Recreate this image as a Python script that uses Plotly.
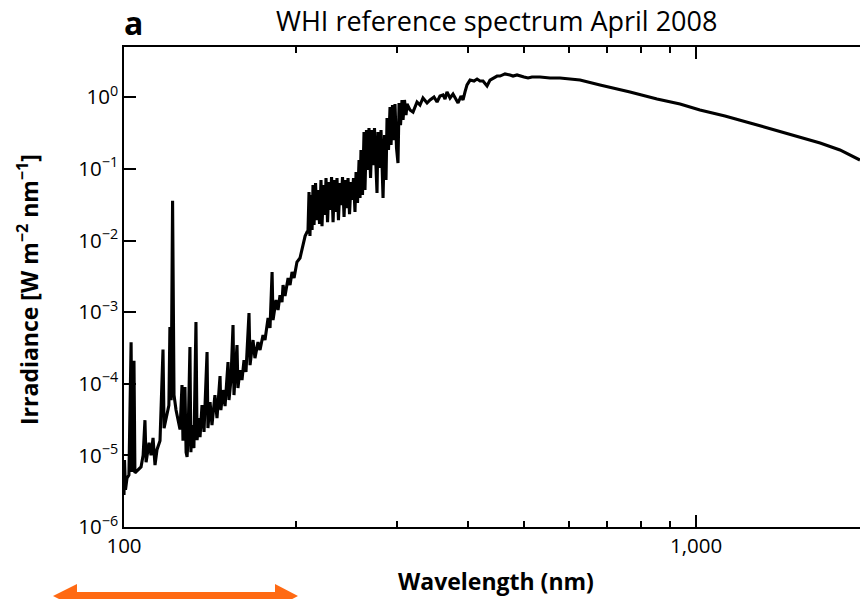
import plotly.graph_objects as go

# ---- data (wavelength in nm, irradiance in W m^-2 nm^-1) ----
wavelength_nm = [
    100.0, 100.2, 100.6, 101.2, 102.0, 102.9, 103.3, 104.1, 104.5, 105.8,
    107.1, 108.0, 108.8, 109.3, 110.6, 111.5, 112.4, 113.3, 114.2, 115.6,
    117.0, 117.5, 118.9, 119.8, 120.3, 120.9, 121.6, 122.3, 123.3, 124.3,
    125.3, 126.3, 126.8, 127.8, 128.4, 128.9,
    129.4, 130.4, 130.9, 131.5, 132.5, 133.6, 134.2, 135.2, 135.8, 136.9,
    138.0, 139.7, 140.2, 141.4, 142.5, 144.2, 145.4, 147.2, 147.7, 148.9,
    150.2, 152.0, 152.6, 153.8, 155.1, 155.7, 157.6, 158.2, 159.5, 160.8,
    162.1, 163.4, 165.4, 166.1, 168.1, 169.4, 171.5, 172.9, 175.0, 176.4,
    178.6, 180.0, 181.5, 182.2, 184.4, 185.9, 187.4, 188.9, 189.7, 191.2,
    193.6, 195.1, 196.7, 198.3, 200.6, 203.1, 205.6, 207.3, 208.9,
    209.7, 210.6, 211.4, 212.3, 213.2, 214.0, 214.9, 216.2, 217.5, 218.4,
    219.7, 221.0, 221.9, 223.3, 224.6, 225.5, 226.9, 228.3, 229.2, 230.6,
    232.0, 233.4, 234.8, 235.7, 237.1, 238.6, 239.5, 241.0, 242.5, 243.9,
    245.4, 246.4, 247.9, 249.4, 250.4, 251.9, 253.4, 254.5, 256.0, 257.6,
    258.6, 259.6, 261.2, 262.8, 263.8, 265.4, 267.1, 268.1, 269.8, 271.4,
    272.5, 274.1, 275.8, 276.9, 278.0, 279.7, 281.4, 282.5, 283.7, 285.4,
    287.1, 288.3, 290.0, 291.8, 293.0, 294.7, 296.5, 297.7, 299.5, 301.3,
    302.6, 304.4, 306.2, 307.5, 309.3, 311.2, 312.5,
    316.2, 320.1, 325.3, 329.2, 333.2, 338.7, 342.8, 348.3, 352.6, 356.8,
    361.2, 364.1, 367.0, 371.5, 376.0, 380.6, 383.7, 388.3, 391.5, 394.6,
    397.8, 402.7, 409.2, 414.2, 419.2, 424.3, 427.7, 431.2, 436.4, 441.7,
    448.9, 454.3, 463.6, 473.0, 478.8, 486.5, 492.4, 500.4, 508.6, 516.8,
    533.7, 555.7, 578.3, 626.9, 679.5, 766.7, 854.8, 937.7, 1016.0, 1123.7,
    1243.0, 1374.5, 1520.0, 1648.0, 1785.0, 1935.0,
]

irradiance = [
    2.8e-6, 8.6e-6, 3.3e-6, 4.8e-6, 5.3e-6, 3.8e-4, 5.85e-6, 2.1e-4, 5.7e-6, 6.2e-6,
    6.9e-6, 1.0e-5, 3.1e-5, 8.0e-6, 1.5e-5, 1.0e-5, 1.75e-5, 7.3e-6, 1.2e-5, 1.6e-5,
    3.0e-4, 2.4e-5, 3.7e-5, 5.0e-5, 6.2e-4, 5.9e-5, 3.6e-2, 7.0e-5, 4.3e-5, 3.1e-5,
    2.3e-5, 9.6e-5, 1.6e-5, 9.0e-5, 1.1e-5, 9.5e-6,
    1.64e-5, 3.26e-4, 1.11e-5, 2.65e-5, 1.26e-5, 7.27e-4, 1.64e-5, 3.32e-5, 1.80e-5, 5.04e-5,
    2.12e-5, 2.77e-4, 2.41e-5, 5.55e-5, 2.65e-5, 6.95e-5, 3.32e-5, 1.28e-4, 4.29e-5, 8.17e-5,
    4.88e-5, 2.01e-4, 5.92e-5, 1.13e-4, 6.60e-4, 6.95e-5, 3.47e-4, 8.71e-5, 1.55e-4, 1.13e-4,
    2.14e-4, 1.46e-4, 9.71e-4, 1.82e-4, 4.08e-4, 2.28e-4, 3.82e-4, 2.96e-4, 4.79e-4, 4.08e-4,
    8.27e-4, 6.0e-4, 3.63e-3, 7.76e-4, 1.48e-3, 1.07e-3, 1.73e-3, 1.38e-3, 2.39e-3, 1.68e-3,
    2.99e-3, 2.39e-3, 3.63e-3, 2.99e-3, 5.01e-3, 5.70e-3, 9.23e-3, 1.156e-2, 1.31e-2,
    1.31e-2, 4.76e-2, 1.156e-2, 4.32e-2, 1.40e-2, 5.96e-2, 1.646e-2, 6.35e-2, 1.93e-2, 5.07e-2,
    1.70e-2, 7.0e-2, 1.59e-2, 5.96e-2, 2.27e-2, 7.46e-2, 1.81e-2, 6.56e-2, 2.67e-2, 7.71e-2,
    1.81e-2, 7.0e-2, 2.50e-2, 7.46e-2, 1.93e-2, 6.35e-2, 3.13e-2, 7.71e-2, 2.13e-2, 7.0e-2,
    2.84e-2, 7.46e-2, 2.34e-2, 6.56e-2, 3.68e-2, 7.46e-2, 2.50e-2, 9.05e-2, 3.34e-2, 0.133,
    3.92e-2, 0.184, 4.32e-2, 0.328, 5.07e-2, 0.349, 9.65e-2, 0.373, 7.46e-2, 0.349,
    0.113, 0.373, 9.05e-2, 4.61e-2, 0.328, 0.103, 0.349, 8.22e-2, 3.92e-2, 0.298,
    7.0e-2, 0.514, 0.184, 0.732, 0.216, 0.781, 0.253, 0.806, 0.196, 0.121,
    0.833, 0.410, 0.917, 0.482, 0.917, 0.566, 0.806,
    0.665, 0.623, 0.86, 0.781, 0.978, 0.833, 0.917, 1.01, 0.86, 1.043,
    1.08, 0.947, 1.19, 0.978, 1.112, 0.917, 0.833, 1.043, 0.917, 1.19,
    1.49, 1.74, 1.69, 1.80, 1.69, 1.69, 1.584, 1.438, 1.74, 1.86,
    1.98, 1.98, 2.12, 2.05, 1.98, 2.05, 1.98, 1.92, 1.86, 1.92,
    1.92, 1.86, 1.86, 1.74, 1.49, 1.19, 0.947, 0.806, 0.665, 0.548,
    0.438, 0.349, 0.279, 0.230, 0.184, 0.133,
]

y_tick_vals = [1e-6, 1e-5, 1e-4, 1e-3, 1e-2, 1e-1, 1e0]
y_tick_text = ["10<sup>−6</sup>", "10<sup>−5</sup>", "10<sup>−4</sup>", "10<sup>−3</sup>",
               "10<sup>−2</sup>", "10<sup>−1</sup>", "10<sup>0</sup>"]
x_major_vals = [100, 1000]
x_major_text = ["100", "1,000"]
x_minor_vals = [200, 300, 400, 500, 600, 700, 800, 900, 2000]

panel_label = "a"
title_text = "WHI reference spectrum April 2008"
x_title = "Wavelength (nm)"
y_title = "Irradiance [W m<sup>−2</sup> nm<sup>−1</sup>]"

FONT = "Open Sans"
X_RANGE = [2, 3.2867]
Y_RANGE = [-6, 0.7025]

fig = go.Figure()
fig.add_trace(go.Scatter(
    x=wavelength_nm, y=irradiance, mode="lines",
    line=dict(color="black", width=3.1),
    showlegend=False, hoverinfo="skip",
))

axis_common = dict(showgrid=False, zeroline=False, tickcolor="black", tickwidth=1.5)

fig.update_layout(
    width=860, height=599,
    margin=dict(l=124, r=0, t=47, b=72, pad=0),
    paper_bgcolor="white", plot_bgcolor="white",
    font=dict(family=FONT, color="black", size=20.5),
    xaxis=dict(
        type="log", range=X_RANGE, tickmode="array",
        tickvals=x_major_vals, ticktext=x_major_text,
        ticks="inside", ticklen=12, showline=True, linewidth=1.5, linecolor="black",
        mirror="ticks", tickfont=dict(size=20.5, family=FONT),
        minor=dict(tickmode="array", tickvals=x_minor_vals, ticks="inside",
                   ticklen=6, tickwidth=1.5, tickcolor="black", showgrid=False),
        **axis_common,
    ),
    yaxis=dict(
        type="log", range=Y_RANGE, tickmode="array",
        tickvals=y_tick_vals, ticktext=y_tick_text,
        ticks="inside", ticklen=12, showline=True, linewidth=1.5, linecolor="black",
        tickfont=dict(size=20.5, family=FONT),
        **axis_common,
    ),
    yaxis2=dict(
        type="log", range=Y_RANGE, overlaying="y", side="right", anchor="x",
        tickmode="array", tickvals=y_tick_vals, ticks="inside", ticklen=4,
        showticklabels=False, showline=False,
        **axis_common,
    ),
)

PLOT_W = 860 - 124
PLOT_H = 599 - 47 - 72


def px_to_paper_x(px):
    return (px - 124) / PLOT_W


def px_to_paper_y(py):
    return (527 - py) / PLOT_H


annotations = [
    dict(text="<b>" + panel_label + "</b>", x=px_to_paper_x(122), y=px_to_paper_y(23),
         xref="paper", yref="paper", xanchor="left", yanchor="middle",
         showarrow=False, font=dict(size=32, family=FONT, color="black")),
    dict(text=title_text, x=px_to_paper_x(496), y=px_to_paper_y(20),
         xref="paper", yref="paper", xanchor="center", yanchor="middle",
         showarrow=False, font=dict(size=27, family=FONT, color="black")),
    dict(text="<b>" + x_title + "</b>", x=px_to_paper_x(496), y=px_to_paper_y(581),
         xref="paper", yref="paper", xanchor="center", yanchor="middle",
         showarrow=False, font=dict(size=23, family=FONT, color="black")),
    dict(text="<b>" + y_title + "</b>", x=px_to_paper_x(28), y=px_to_paper_y(290),
         xref="paper", yref="paper", xanchor="center", yanchor="middle", textangle=-90,
         showarrow=False, font=dict(size=23, family=FONT, color="black")),
]
fig.update_layout(annotations=annotations)

# orange double-headed arrow below the axis
pts = [(53, 596), (77, 584), (77, 592), (275, 592), (275, 584), (298, 596),
       (275, 608), (275, 600), (77, 600), (77, 608)]
path = "M " + " L ".join(f"{px_to_paper_x(a):.5f},{px_to_paper_y(b):.5f}" for a, b in pts) + " Z"
fig.add_shape(type="path", path=path, xref="paper", yref="paper",
              fillcolor="#FF6A13", line=dict(width=0), layer="above")

fig.write_html("out.html")
